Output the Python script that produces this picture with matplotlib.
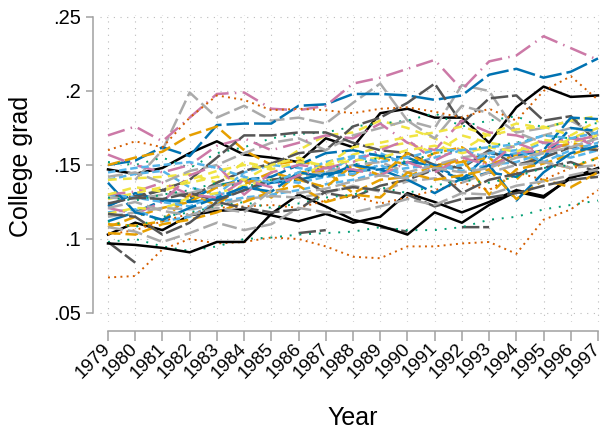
import numpy as np
import matplotlib
matplotlib.use("Agg")
import matplotlib.pyplot as plt

plt.rcParams["font.family"] = ["Liberation Sans", "DejaVu Sans"]

nan = np.nan
years = list(range(1979, 1998))

# share of college graduates by state, grouped by the line style used for them
black = [
    [.147, .144, .148, .158, .166, .157, .155, .152, .168, .162, .185, .188, .182, .182, .165, .189, .203, .196, .197],
    [.103, .111, .106, .116, .119, .120, .116, .112, .117, .111, .115, .131, .125, .118, .125, .133, .129, .141, .148],
    [.097, .096, .094, .091, .098, .098, .117, .130, .122, .113, .109, .103, .118, .111, .123, .132, .128, .142, .145],
]
dark_gray = [
    [.098, .084, nan, nan, nan, nan, nan, .104, .106, nan, .108, .105, nan, .108, .108, nan, nan, nan, nan],
    [.123, .129, .133, .128, .138, .146, .151, .158, .160, .176, .182, .192, .205, .178, .195, .197, .180, .183, .165],
    [.130, .128, .133, .140, .155, .170, .170, .172, .172, .165, .160, .158, .150, .148, .160, .150, .155, .162, .160],
    [.124, .128, .127, .131, .126, .133, .140, .142, .131, .128, .136, .140, .147, .131, .140, .144, .148, .152, .145],
    [.117, .115, .103, .111, .125, .121, .118, .120, .132, .135, .133, .130, .122, .127, .128, .131, .136, .140, .142],
]
light_gray = [
    [nan, .140, .160, .199, .182, .190, .180, .182, .178, .192, .205, .180, .175, .204, .200, .172, .175, .180, .170],
    [.142, .145, .138, .146, .150, .158, .165, .168, .160, .170, .175, .180, .168, .190, .185, .172, .165, .162, .160],
    [.128, .127, .130, .131, .136, .138, .140, .142, .145, .150, .152, .145, .150, .155, .158, .163, .170, .175, .172],
    [.115, .118, .121, .120, .123, .127, .129, .128, .131, .136, .132, .139, .141, .138, .145, .150, .152, .148, .150],
    [.108, .105, .098, .104, .111, .106, .110, .121, .118, .118, .122, .127, .123, .131, .130, .136, .139, .143, .147],
    [.121, .125, .119, .116, .121, .118, .133, .131, .134, .139, .143, .141, .148, .145, .148, .155, .158, .162, .168],
]
blue = [
    [.150, .153, .162, .156, .177, .178, .178, .190, .191, .198, .198, .197, .194, .197, .211, .215, .209, .213, .222],
    [.122, .131, .126, .126, .136, .140, .142, .150, .158, .160, .156, .155, .148, .140, .158, .156, .160, .182, .181],
    [.112, .118, .126, .125, .127, .133, .138, .140, .144, .146, .147, .152, .150, .140, .145, .142, .155, .175, .173],
    [.138, .118, .113, .121, .128, .135, .132, .145, .142, .150, .147, .140, .131, .141, .150, .126, .145, .158, .163],
]
orange = [
    [.150, .155, .159, .170, .176, .160, .150, .153, .148, .143, .155, .150, .158, .162, .150, .157, .152, .148, .155],
    [.108, .115, .121, .125, .135, .140, .128, .145, .146, .131, .140, .142, .150, .152, .155, .140, .159, .165, .160],
    [.110, .109, .112, .130, .123, .137, .145, .140, .135, .150, .143, .158, .148, .154, .130, .147, .151, .157, .163],
    [.104, .103, .110, .113, .118, .125, .132, .136, .125, .130, .128, .145, .140, .143, .147, .127, .140, .135, .145],
]
pink = [
    [.170, .176, .166, .182, .198, .199, .188, .187, .190, .205, .209, .215, .221, .201, .220, .224, .237, .229, .221],
    [.157, .150, .145, .150, .163, .168, .160, .165, .170, .168, .178, .165, .160, .180, .172, .170, .165, .168, .165],
    [.121, .117, .125, .143, .150, .130, .145, .150, .148, .152, .160, .167, .153, .162, .148, .158, .160, .170, .162],
    [.130, .132, .138, .130, .128, .140, .135, .143, .148, .147, .143, .152, .145, .155, .150, .165, .158, .166, .170],
]
sky_blue = [
    [.140, .144, .146, .135, .130, .145, .150, .148, .145, .155, .158, .150, .155, .160, .155, .158, .165, .162, .168],
    [.118, .120, .112, .115, .125, .128, .130, .133, .137, .140, .145, .148, .150, .146, .150, .152, .158, .155, .160],
    [.130, .128, .125, .122, .130, .133, .140, .138, .142, .144, .150, .142, .147, .150, .158, .160, .152, .160, .165],
    [.145, .148, .150, .152, .148, .142, .138, .145, .152, .156, .152, .155, .160, .160, .162, .164, .170, .168, .172],
]
yellow = [
    [.140, .141, .142, .144, .138, .152, .148, .160, .170, .172, .180, .175, .168, .160, .171, .178, .175, .180, .183],
    [.127, .131, .135, .138, .142, .140, .150, .155, .148, .157, .162, .165, .158, .170, .165, .162, .158, .168, .175],
    [.117, .121, .120, .128, .131, .136, .140, .143, .150, .153, .155, .160, .163, .158, .162, .159, .167, .165, .170],
    [.130, .135, .132, .140, .146, .150, .147, .152, .150, .162, .165, .169, .172, .176, .170, .174, .176, .170, .180],
]
green = [
    [.152, .150, .155, .148, .158, .162, .168, .171, .172, .176, .178, .180, .185, .176, .180, .183, .175, .180, .178],
    [.098, .100, .095, .092, .095, .100, .101, .103, .104, .105, .108, .106, .106, .108, .113, .115, .120, .123, .126],
    [.128, .126, .130, .133, .138, .135, .140, .145, .148, .150, .155, .152, .158, .160, .163, .165, .170, .168, .172],
    [.112, .108, .115, .118, .122, .125, .121, .124, .128, .130, .135, .131, .136, .140, .138, .142, .148, .150, .154],
]
vermilion = [
    [.074, .075, .093, .100, .097, .098, .101, .100, .095, .088, .087, .095, .095, .097, .098, .090, .113, .120, .133],
    [.160, .166, .162, .182, .197, .194, .187, .188, .187, .185, .188, .189, .186, .182, .188, .180, .200, .210, .194],
    [.103, .106, .112, .117, .121, .122, .123, .121, .126, .129, .124, .128, .133, .138, .133, .145, .140, .148, .150],
]

groups = [
    (black, "black", "-", 1.8),
    (dark_gray, "#555555", (0, (7, 1.5)), 1.8),
    (light_gray, "#aaaaaa", (0, (6, 2)), 1.8),
    (blue, "#0072B2", (0, (9, 2)), 1.8),
    (orange, "#E69F00", (0, (5, 2)), 1.8),
    (pink, "#CC79A7", (0, (7, 2.5, 0.6, 2.5)), 1.8),
    (sky_blue, "#56B4E9", (0, (3, 1.5)), 1.8),
    (yellow, "#F0E442", (0, (3.5, 2.5)), 1.8),
    (green, "#009E73", (0, (1, 4)), 1.4),
    (vermilion, "#D55E00", (0, (1, 2.2)), 1.4),
]

fig = plt.figure(figsize=(6.03, 4.34), dpi=100)
ax = fig.add_axes([100 / 603, 1 - 322 / 434, 500 / 603, 307 / 434])

nmax = max(len(g[0]) for g in groups)
for i in range(nmax):
    for series, color, ls, lw in groups:
        if i < len(series):
            ax.plot(years, series[i], color=color, linestyle=ls, linewidth=lw)

ax.set_xlim(1979 - 8 / 27.22, 1997 + 2 / 27.22)
ax.set_ylim(0.25 - 305 / 1480, 0.25 + 2 / 1480)

ax.set_yticks([.05, .1, .15, .2, .25])
ax.set_yticklabels([".05", ".1", ".15", ".2", ".25"])
ax.set_xticks(years)
ax.set_xticklabels([str(y) for y in years])

ax.grid(True, color="#bbbbbb", linestyle=(0, (1, 5)), linewidth=0.8)
ax.set_axisbelow(True)

for s in ["top", "right"]:
    ax.spines[s].set_visible(False)
ax.spines["left"].set_position(("outward", 5))
ax.spines["bottom"].set_position(("outward", 6.5))
ax.spines["left"].set_bounds(.05, .25)
ax.spines["bottom"].set_bounds(1979, 1997)
for s in ["left", "bottom"]:
    ax.spines[s].set_color("#a0a0a0")
    ax.spines[s].set_linewidth(1.1)

ax.tick_params(axis="y", length=5, width=1.1, color="#a0a0a0", pad=4,
               labelsize=14.5)
ax.tick_params(axis="x", length=7.2, width=1.1, color="#a0a0a0", pad=3.5,
               labelsize=13.5)
plt.setp(ax.get_xticklabels(), rotation=45, ha="right", va="center",
         rotation_mode="anchor")

fig.text(21 / 603, 1 - 166 / 434, "College grad", rotation=90,
         ha="center", va="center", fontsize=18)
fig.text(353 / 603, 1 - 418 / 434, "Year", ha="center", va="center",
         fontsize=18)

fig.savefig("out.png", dpi=100)
